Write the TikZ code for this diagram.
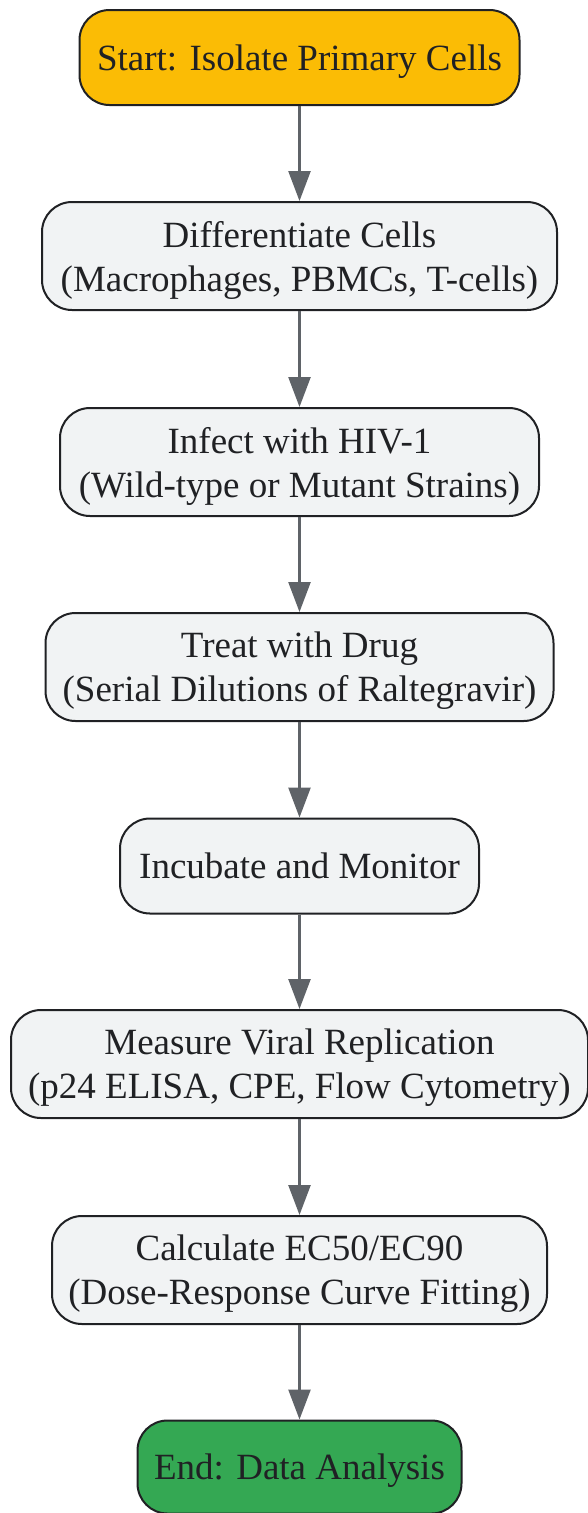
\documentclass[tikz,border=0pt]{standalone}
\usepackage{fontspec}
\setmainfont{Liberation Serif}
\usetikzlibrary{arrows.meta}
\definecolor{startorange}{HTML}{FBBC05}
\definecolor{endgreen}{HTML}{34A853}
\definecolor{boxgray}{HTML}{F1F3F4}
\definecolor{arrowgray}{HTML}{5F6368}
\definecolor{inkdark}{HTML}{202124}
\tikzset{
  flowbox/.style={draw=inkdark, line width=2pt, rounded corners=30pt, align=center,
    text=inkdark, font=\fontsize{37}{44}\selectfont, inner sep=0pt, text depth=0pt},
  startbox/.style={flowbox, fill=startorange, minimum height=95, text depth=-4pt},
  endbox/.style={flowbox, fill=endgreen, minimum height=93, text depth=-4pt},
  procbox/.style={flowbox, fill=boxgray, minimum height=108},
  flowarrow/.style={arrowgray, line width=2.5pt, -{Triangle[length=30pt,width=22pt]}}
}
\begin{document}
\begin{tikzpicture}[x=1pt,y=1pt]
  \def\midx{299.5}
  \useasboundingbox (0,0) rectangle (587,-1513);
  \node[startbox, minimum width=440] (start) at (\midx,-57.5) {Start: Isolate Primary Cells};
  \node[procbox, minimum width=515] (diff) at (\midx,-256) {Differentiate Cells\\(Macrophages, PBMCs, T-cells)};
  \node[procbox, minimum width=479] (infect) at (\midx,-462) {Infect with HIV-1\\(Wild-type or Mutant Strains)};
  \node[procbox, minimum width=508] (treat) at (\midx,-667) {Treat with Drug\\(Serial Dilutions of Raltegravir)};
  \node[procbox, minimum width=359, minimum height=95, text depth=-4pt] (incub) at (\midx,-866) {Incubate and Monitor};
  \node[procbox, minimum width=577] (measure) at (\midx,-1064) {Measure Viral Replication\\(p24 ELISA, CPE, Flow Cytometry)};
  \node[procbox, minimum width=495] (calc) at (\midx,-1270) {Calculate EC50/EC90\\(Dose-Response Curve Fitting)};
  \node[endbox, minimum width=324] (end) at (\midx,-1467) {End: Data Analysis};
  \foreach \a/\b in {start/diff, diff/infect, infect/treat, treat/incub,
                     incub/measure, measure/calc, calc/end} {
      \draw[flowarrow] (\a) -- (\b); % step to step
  }
\end{tikzpicture}
\end{document}
